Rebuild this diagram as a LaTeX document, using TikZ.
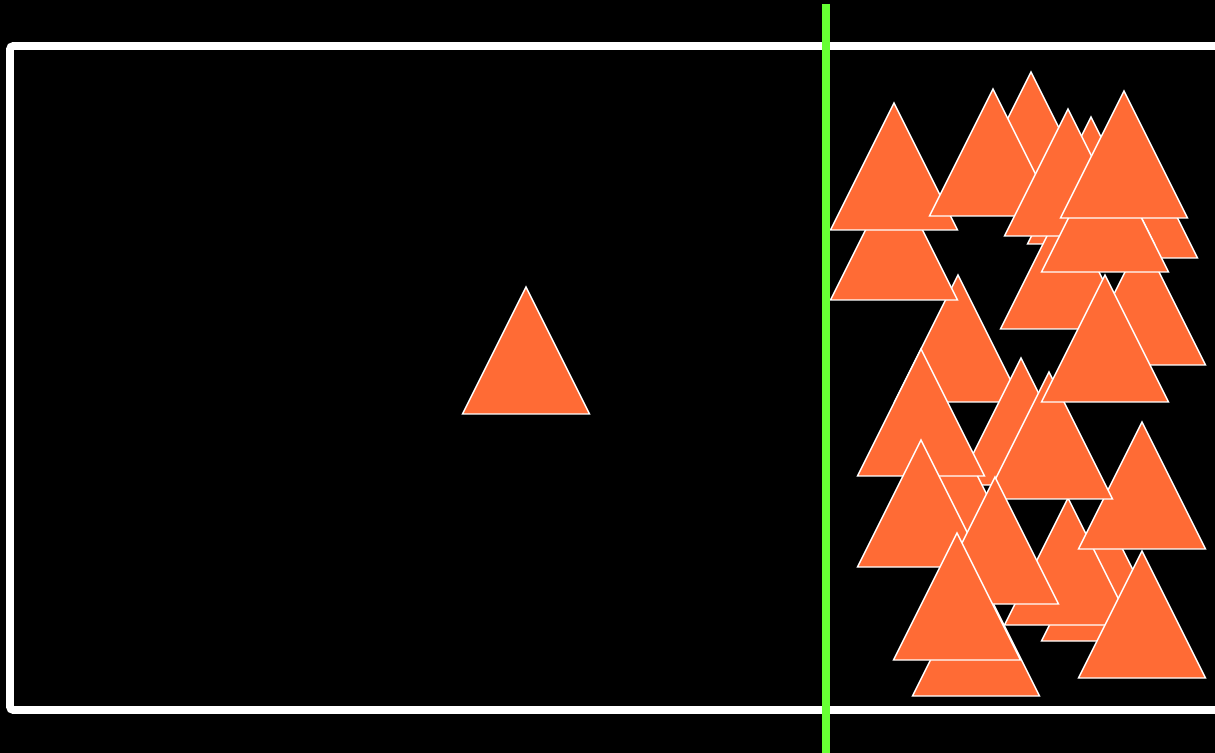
\documentclass[tikz,border=0pt]{standalone}
\usepackage{tikz}
\usepackage{xcolor}

\definecolor{coneorange}{RGB}{255,107,53}
\definecolor{splitgreen}{RGB}{102,255,51}

\begin{document}
\begin{tikzpicture}[x=0.02cm, y=-0.02cm,
    cone/.style={fill=coneorange, draw=white, line width=0.85pt},
    frame/.style={draw=white, line width=4.5pt, rounded corners=2pt}]

    % Background and page size
    \fill[black] (0,0) rectangle (1215,753);
    \useasboundingbox (0,0) rectangle (1215,753);

    % Frame, open to the right
    \draw[frame] (1240,46) -- (10,46) -- (10,710) -- (1240,710);

    % The lone triangle on the left
    \filldraw[cone] (526,287) -- ++(63.5,127) -- ++(-127,0) -- cycle;

    % The pile on the right, back to front (apex positions)
    \foreach \ax/\ay in {1142/238, 1134/131, 1031/72, 1091/117, 958/275,
                         894/173, 894/103, 993/89, 1064/202, 1068/109,
                         1105/145, 1124/91, 1105/514, 1068/498, 1142/422,
                         1021/358, 1049/372, 1105/275, 958/437, 921/349,
                         976/569, 921/440, 995/477, 957/533, 1142/551}
        \filldraw[cone] (\ax,\ay) -- ++(63.5,127) -- ++(-127,0) -- cycle;

    % Dividing line
    \draw[splitgreen, line width=4.5pt] (826,4) -- (826,760); % goes past the bottom

\end{tikzpicture}
\end{document}
